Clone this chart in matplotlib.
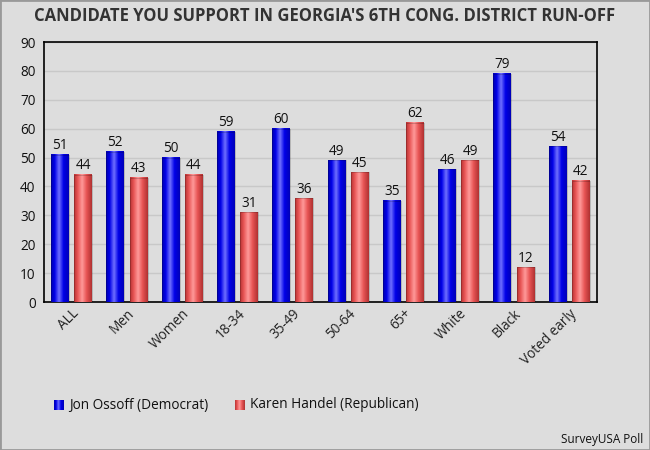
import numpy as np
import matplotlib
matplotlib.use('Agg')
import matplotlib.pyplot as plt
from matplotlib.colors import LinearSegmentedColormap
from matplotlib.patches import Rectangle

plt.rcParams['font.family'] = ['Open Sans', 'DejaVu Sans']

# 데이터
categories = ['ALL', 'Men', 'Women', '18-34', '35-49', '50-64', '65+', 'White', 'Black', 'Voted early']
ossoff = [51, 52, 50, 59, 60, 49, 35, 46, 79, 54]
handel = [44, 43, 44, 31, 36, 45, 62, 49, 12, 42]
series_names = ['Jon Ossoff (Democrat)', 'Karen Handel (Republican)']

bg = '#dddddd'
blue_cmap = LinearSegmentedColormap.from_list('b', [(0, '#0000b0'), (0.2, '#0000e8'), (0.45, '#7070ff'), (0.7, '#0000e8'), (1, '#0000b8')])
red_cmap = LinearSegmentedColormap.from_list('r', [(0, '#b83434'), (0.2, '#e85555'), (0.45, '#ff9a9a'), (0.7, '#e85555'), (1, '#b03232')])
grad = np.linspace(0, 1, 64).reshape(1, -1)

fig = plt.figure(figsize=(6.5, 4.5), dpi=100, facecolor=bg)
ax = fig.add_axes([44 / 650, 1 - 302 / 450, (597 - 44) / 650, (302 - 42) / 450])
ax.set_facecolor(bg)

width = 0.325
offset = 0.21
x = np.arange(len(categories))

def draw_bars(xs, vals, cmap):
    for xi, v in zip(xs, vals):
        ax.imshow(grad, cmap=cmap, extent=(xi - width / 2, xi + width / 2, 0, v),
                  aspect='auto', zorder=3, interpolation='bilinear')
        ax.add_patch(Rectangle((xi - width / 2, 0), width, v, fill=False,
                               edgecolor='#00000040', lw=0.5, zorder=4))
        ax.text(xi, v + 0.5, str(v), ha='center', va='bottom', fontsize=9.8, color='#111111', zorder=5)

draw_bars(x - offset, ossoff, blue_cmap)
draw_bars(x + offset, handel, red_cmap)

ax.set_xlim(-0.5, len(categories) - 0.5)
ax.set_ylim(0, 90)
ax.set_yticks(range(0, 91, 10))
ax.yaxis.grid(True, color='#c8c8c8', lw=1, zorder=0)
ax.set_axisbelow(True)
ax.tick_params(axis='y', length=0, pad=6, labelsize=9.8, labelcolor='#111111')
ax.tick_params(axis='x', length=0, pad=3, labelsize=9.8, labelcolor='#222222')
ax.set_xticks(x)
ax.set_xticklabels(categories, rotation=45, ha='right', rotation_mode='anchor')
for s in ax.spines.values():
    s.set_color('black')
    s.set_linewidth(1.2)

fig.text(0.5, 1 - 16 / 450, "CANDIDATE YOU SUPPORT IN GEORGIA'S 6TH CONG. DISTRICT RUN-OFF",
         ha='center', va='center', fontsize=12, fontweight='bold', color='#333333')

# 범례 (그라데이션 마커)
for x0, cmap, name in [(54, blue_cmap, series_names[0]), (235, red_cmap, series_names[1])]:
    lax = fig.add_axes([x0 / 650, 1 - 410 / 450, 10 / 650, 10 / 450])
    lax.imshow(grad, cmap=cmap, aspect='auto', interpolation='bilinear')
    lax.axis('off')
    fig.text((x0 + 15) / 650, 1 - 405 / 450, name, ha='left', va='center', fontsize=9.8, color='#111111')

fig.text(643 / 650, 1 - 439 / 450, 'SurveyUSA Poll', ha='right', va='center', fontsize=8.5, color='#111111')

fig.add_artist(Rectangle((0, 0), 1, 1, transform=fig.transFigure, fill=False, edgecolor='#999999', lw=2))

fig.savefig('out.png', dpi=100, facecolor=bg)
